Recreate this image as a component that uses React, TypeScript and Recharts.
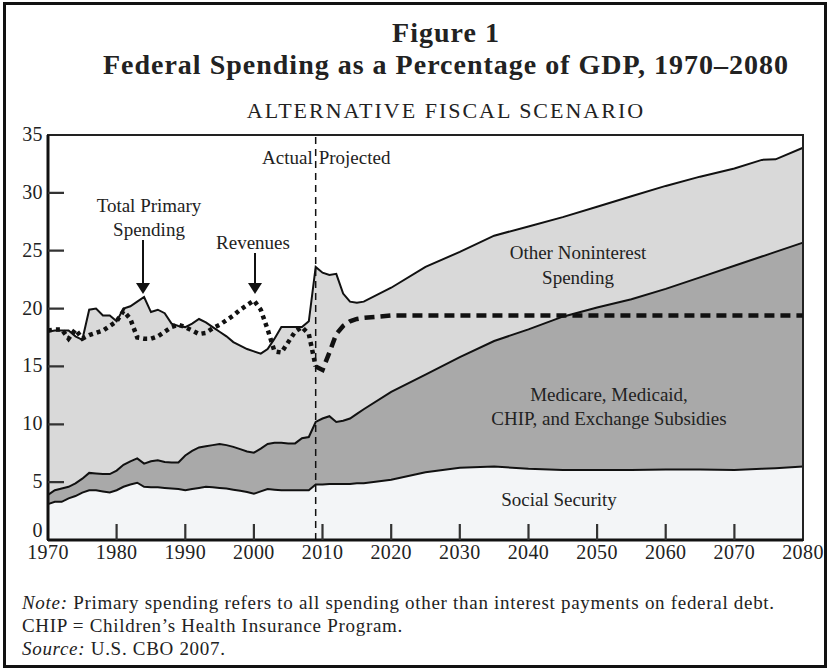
import { Area, ComposedChart, Line, ReferenceArea, ReferenceLine, XAxis, YAxis } from "recharts";

// years: annual through 2016, then the projection points
const years = [
    1970, 1971, 1972, 1973, 1974, 1975, 1976, 1977, 1978, 1979,
    1980, 1981, 1982, 1983, 1984, 1985, 1986, 1987, 1988, 1989,
    1990, 1991, 1992, 1993, 1994, 1995, 1996, 1997, 1998, 1999,
    2000, 2001, 2002, 2003, 2004, 2005, 2006, 2007, 2008, 2009,
    2010, 2011, 2012, 2013, 2014, 2015, 2016,
    2020, 2025, 2030, 2035, 2040, 2045, 2050, 2055, 2060, 2065, 2070, 2074, 2076, 2080,
];

// total primary spending (% of GDP)
const totalSpending = [
    18.0, 18.1, 18.1, 18.1, 17.6, 17.3, 19.9, 20.0, 19.4, 19.4,
    18.9, 20.0, 20.2, 20.6, 21.0, 19.7, 19.9, 19.6, 18.7, 18.5,
    18.4, 18.7, 19.1, 18.8, 18.4, 18.0, 17.6, 17.1, 16.8, 16.5,
    16.3, 16.1, 16.5, 17.4, 18.4, 18.4, 18.4, 18.4, 18.9, 23.6,
    23.1, 22.9, 23.0, 21.3, 20.6, 20.5, 20.6,
    21.8, 23.6, 24.9, 26.3, 27.1, 27.9, 28.8, 29.7, 30.6, 31.4, 32.1, 32.85, 32.9, 33.9,
];

// social security + medicare/medicaid/CHIP/exchange subsidies (top of the dark band)
const ssPlusHealth = [
    3.9, 4.3, 4.45, 4.6, 4.9, 5.3, 5.8, 5.75, 5.7, 5.7,
    6.0, 6.5, 6.8, 7.05, 6.6, 6.8, 6.9, 6.75, 6.7, 6.7,
    7.3, 7.7, 8.0, 8.1, 8.2, 8.3, 8.2, 8.05, 7.85, 7.65,
    7.55, 7.9, 8.3, 8.4, 8.4, 8.35, 8.35, 8.8, 8.9, 10.2,
    10.5, 10.7, 10.2, 10.3, 10.5, 10.9, 11.3,
    12.8, 14.3, 15.8, 17.2, 18.2, 19.3, 20.1, 20.8, 21.7, 22.7, 23.7, 24.5, 24.9, 25.7,
];

// social security
const socialSecurity = [
    3.1, 3.3, 3.3, 3.6, 3.8, 4.1, 4.3, 4.3, 4.2, 4.1,
    4.3, 4.6, 4.8, 4.95, 4.6, 4.55, 4.55, 4.5, 4.45, 4.4,
    4.3, 4.4, 4.5, 4.6, 4.55, 4.5, 4.45, 4.35, 4.25, 4.15,
    4.0, 4.2, 4.4, 4.35, 4.3, 4.3, 4.3, 4.3, 4.3, 4.8,
    4.8, 4.85, 4.85, 4.85, 4.85, 4.9, 4.9,
    5.2, 5.85, 6.25, 6.35, 6.15, 6.05, 6.05, 6.05, 6.1, 6.1, 6.05, 6.15, 6.2, 6.35,
];

// revenues, actual part (to 2009)
const revenuesActual = [
    18.1, 18.2, 18.2, 17.4, 18.2, 17.4, 17.7, 17.9, 18.1, 18.5,
    18.9, 19.8, 19.1, 17.5, 17.4, 17.4, 17.6, 18.0, 18.4, 18.6,
    18.4, 18.1, 17.8, 17.9, 18.3, 18.6, 19.0, 19.4, 19.9, 20.3,
    20.7, 19.9, 18.2, 16.3, 16.2, 17.1, 18.0, 18.4, 17.8, 15.0,
];

// revenues, projected part (from 2009)
const revenuesProjected = [
    15.0, 14.7, 16.2, 17.8, 18.5, 18.9, 19.1, 19.2,
    19.4, 19.4, 19.4, 19.4, 19.4, 19.4, 19.4, 19.4, 19.4, 19.4, 19.4, 19.4, 19.4, 19.4,
];

const xTicks = [1970, 1980, 1990, 2000, 2010, 2020, 2030, 2040, 2050, 2060, 2070, 2080];
const yTicks = [0, 5, 10, 15, 20, 25, 30, 35];

const projStart = years.indexOf(2009);
const data = years.map((year, i) => ({
    year,
    total: totalSpending[i],
    health: ssPlusHealth[i],
    ss: socialSecurity[i],
    revActual: i < revenuesActual.length ? revenuesActual[i] : null,
    revProjected: i >= projStart ? revenuesProjected[i - projStart] : null,
}));

const FONT = "'Liberation Serif', 'Times New Roman', serif";
const TICK_MARGIN = 4;
const TICK_LEN = 16;

// chart geometry
const CHART_W = 830;
const CHART_H = 600;
const MARGIN = { top: 135, right: 27, bottom: 30, left: 8 };
const Y_AXIS_W = 40;
const X_AXIS_H = 30;
const PLOT_LEFT = MARGIN.left + Y_AXIS_W;
const PLOT_RIGHT = CHART_W - MARGIN.right;
const PLOT_TOP = MARGIN.top;
const PLOT_BOTTOM = CHART_H - MARGIN.bottom - X_AXIS_H;
const X_DOMAIN = [1970, 2080];
const Y_DOMAIN = [0, 35];

const XTick = (props: any) => {
    const { x, y, payload } = props;
    const axisY = y - TICK_MARGIN;
    return (
        <text x={x} y={axisY + 19} textAnchor="middle" fontFamily={FONT} fontSize={20} letterSpacing={0.4} fill="#222">
            {payload.value}
        </text>
    );
};

const YTick = (props: any) => {
    const { x, y, payload } = props;
    const axisX = x + TICK_MARGIN;
    return (
        <text x={axisX - 5} y={y + 6 - (payload.value === 0 ? 9 : 0)} textAnchor="end" fontFamily={FONT} fontSize={20} letterSpacing={0.4} fill="#222">
            {payload.value}
        </text>
    );
};

const SplitLabel = (props: any) => {
    const { viewBox } = props;
    const x = viewBox.x;
    const y = viewBox.y + 29;
    return (
        <g fontFamily={FONT} fontSize={19} fill="#222">
            <text x={x - 3} y={y} textAnchor="end">Actual</text>
            <text x={x + 3} y={y} textAnchor="start">Projected</text>
        </g>
    );
};

// inward tick marks sit on top of the fills, so they go in the overlay
const tickX = (v: number) => PLOT_LEFT + ((v - X_DOMAIN[0]) / (X_DOMAIN[1] - X_DOMAIN[0])) * (PLOT_RIGHT - PLOT_LEFT);
const tickY = (v: number) => PLOT_BOTTOM - ((v - Y_DOMAIN[0]) / (Y_DOMAIN[1] - Y_DOMAIN[0])) * (PLOT_BOTTOM - PLOT_TOP);
const tickPath = [
    ...xTicks.slice(1, -1).map((v) => `M${tickX(v).toFixed(1)},${PLOT_BOTTOM} V${PLOT_BOTTOM - TICK_LEN}`),
    ...yTicks.slice(1, -1).map((v) => `M${PLOT_LEFT},${tickY(v).toFixed(1)} H${PLOT_LEFT + TICK_LEN}`),
].join(" ");

export default function App() {
    const text = { fontFamily: FONT, fill: "#222", fontSize: 19 };
    return (
        <div style={{ position: "absolute", left: 0, top: 0, width: 830, height: 671, background: "#fff", fontFamily: FONT, color: "#222" }}>
            <div style={{ position: "absolute", left: 3, top: 2, width: 824, height: 666, border: "3px solid #111", boxSizing: "border-box" }} />
            <div style={{ position: "absolute", left: 46, top: 17, width: 800, textAlign: "center", fontWeight: "bold", fontSize: 28, letterSpacing: 1, lineHeight: "32px" }}>
                Figure 1<br />Federal Spending as a Percentage of GDP, 1970–2080
            </div>
            <div style={{ position: "absolute", left: 46, top: 98, width: 800, textAlign: "center", fontSize: 22, letterSpacing: 2 }}>
                ALTERNATIVE FISCAL SCENARIO
            </div>

            <div style={{ position: "absolute", left: 0, top: 0 }}>
                <ComposedChart width={CHART_W} height={CHART_H} data={data} margin={MARGIN}>
                    <Area type="linear" dataKey="total" fill="#d9d9d9" fillOpacity={1} stroke="#111" strokeWidth={2} isAnimationActive={false} />
                    <Area type="linear" dataKey="health" fill="#a9a9a9" fillOpacity={1} stroke="#111" strokeWidth={2} isAnimationActive={false} />
                    <Area type="linear" dataKey="ss" fill="#f3f5f7" fillOpacity={1} stroke="#111" strokeWidth={2} isAnimationActive={false} />
                    <Line type="linear" dataKey="revActual" stroke="#111" strokeWidth={4.5} strokeDasharray="4 4" dot={false} isAnimationActive={false} />
                    <Line type="linear" dataKey="revProjected" stroke="#111" strokeWidth={4.5} strokeDasharray="10 6" dot={false} isAnimationActive={false} />
                    <ReferenceLine x={2009} stroke="#111" strokeWidth={1.5} strokeDasharray="7 5" label={<SplitLabel />} />
                    <ReferenceArea x1={X_DOMAIN[0]} x2={X_DOMAIN[1]} y1={Y_DOMAIN[0]} y2={Y_DOMAIN[1]} fill="none" stroke="#222" strokeWidth={2} />
                    <XAxis dataKey="year" type="number" domain={X_DOMAIN} ticks={xTicks} height={X_AXIS_H}
                        tickSize={0} tickMargin={TICK_MARGIN} tickLine={false} tick={<XTick />} axisLine={{ stroke: "#111", strokeWidth: 3 }} interval={0} />
                    <YAxis type="number" domain={Y_DOMAIN} ticks={yTicks} width={Y_AXIS_W}
                        tickSize={0} tickMargin={TICK_MARGIN} tickLine={false} tick={<YTick />} axisLine={{ stroke: "#111", strokeWidth: 3 }} interval={0} />
                </ComposedChart>
            </div>

            <svg width={830} height={671} style={{ position: "absolute", left: 0, top: 0, pointerEvents: "none" }}>
                <path d={tickPath} stroke="#333" strokeWidth={2.2} fill="none" />
                <g {...text} textAnchor="middle">
                    <text x={149} y={212}>Total Primary</text>
                    <text x={149} y={236}>Spending</text>
                    <text x={253} y={249}>Revenues</text>
                    <text x={578} y={259}>Other Noninterest</text>
                    <text x={578} y={284}>Spending</text>
                    <text x={609} y={401}>Medicare, Medicaid,</text>
                    <text x={609} y={425}>CHIP, and Exchange Subsidies</text>
                    <text x={559} y={506}>Social Security</text>
                </g>
                <g stroke="#111" strokeWidth={2}>
                    <line x1={143} y1={240} x2={143} y2={284} />
                    <line x1={255} y1={253} x2={255} y2={284} />
                </g>
                <g fill="#111">
                    <polygon points="136,283 150,283 143,294" />
                    <polygon points="248,283 262,283 255,294" />
                </g>
            </svg>

            <div style={{ position: "absolute", left: 22, top: 591, fontSize: 19, letterSpacing: 0.7, lineHeight: "23px" }}>
                <div><i>Note:</i> Primary spending refers to all spending other than interest payments on federal debt.</div>
                <div>CHIP = Children’s Health Insurance Program.</div>
                <div><i>Source:</i> U.S. CBO 2007.</div>
            </div>
        </div>
    );
}
